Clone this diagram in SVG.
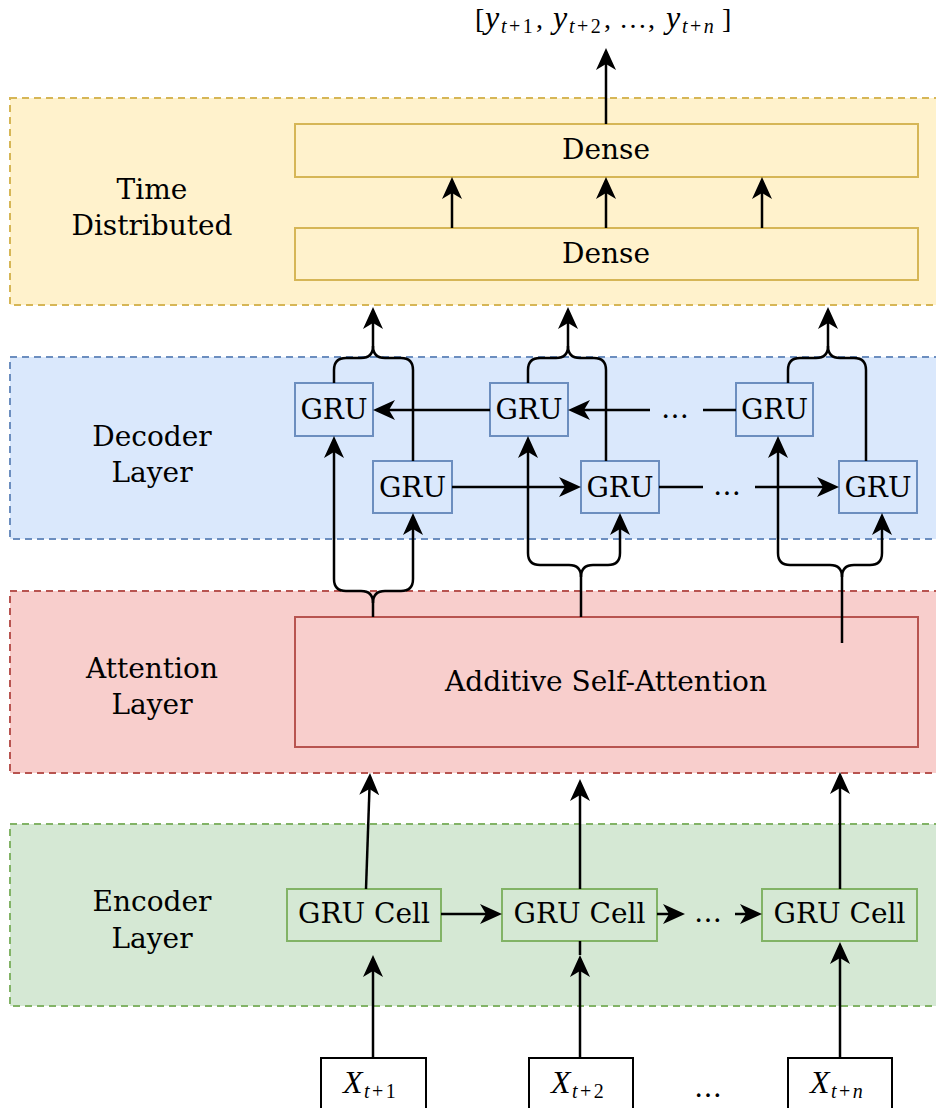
<svg xmlns="http://www.w3.org/2000/svg" width="936" height="1108" viewBox="0 0 936 1108">
  <style>
    .layer { stroke-width: 2; stroke-dasharray: 7 5; }
    .node { stroke-width: 2; }
    .yel { fill: #fff2cc; stroke: #d6b656; }
    .blu { fill: #dae8fc; stroke: #6c8ebf; }
    .red { fill: #f8cecc; stroke: #b85450; }
    .grn { fill: #d5e8d4; stroke: #82b366; }
    .inp { fill: #ffffff; stroke: #000000; }
    .t { font-family: "DejaVu Serif", "Liberation Serif", serif; font-size: 28px; fill: #000; text-anchor: middle; }
    .m { font-family: "Liberation Serif", "DejaVu Serif", serif; font-size: 28px; fill: #000; }
    .it { font-style: italic; }
    .v { font-size: 32px; font-style: italic; }
    .sub { font-size: 20px; letter-spacing: 2.5px; }
    .conn path { fill: none; stroke: #000; stroke-width: 2.5; }
    .conn .a { marker-end: url(#ah); }
  </style>
  <defs>
    <marker id="ah" markerUnits="userSpaceOnUse" markerWidth="22" markerHeight="20" refX="16" refY="10" orient="auto">
      <path d="M0,0 L22,10 L0,20 L6,10 Z" fill="#000"/>
    </marker>
  </defs>

  <!-- layer bands -->
  <g id="layer-time">
    <rect class="layer yel" x="10" y="98" width="940" height="207"/>
    <text class="t" x="152" y="199">Time</text>
    <text class="t" x="152" y="235">Distributed</text>
  </g>
  <g id="layer-decoder">
    <rect class="layer blu" x="10" y="357" width="940" height="182"/>
    <text class="t" x="152" y="446">Decoder</text>
    <text class="t" x="152" y="482">Layer</text>
  </g>
  <g id="layer-attention">
    <rect class="layer red" x="10" y="591" width="940" height="182"/>
    <text class="t" x="152" y="678">Attention</text>
    <text class="t" x="152" y="714">Layer</text>
  </g>
  <g id="layer-encoder">
    <rect class="layer grn" x="10" y="824" width="940" height="182"/>
    <text class="t" x="152" y="911">Encoder</text>
    <text class="t" x="152" y="948">Layer</text>
  </g>

  <!-- output sequence label -->
  <g id="output">
    <text class="m" y="28"><tspan x="475">[</tspan><tspan x="485" class="v">y</tspan><tspan x="501" y="33" class="sub"><tspan class="it">t</tspan>+1</tspan><tspan x="536" y="28">,</tspan><tspan x="553" class="v">y</tspan><tspan x="569" y="33" class="sub"><tspan class="it">t</tspan>+2</tspan><tspan x="604" y="28">,</tspan><tspan x="619">…</tspan><tspan x="648">,</tspan><tspan x="666" class="v">y</tspan><tspan x="682" y="33" class="sub"><tspan class="it">t</tspan>+<tspan class="it">n</tspan></tspan><tspan x="722" y="28">]</tspan></text>
  </g>

  <!-- dense stack -->
  <g id="dense-top">
    <rect class="node yel" x="295" y="124" width="623" height="53"/>
    <text class="t" x="606" y="159">Dense</text>
  </g>
  <g id="dense-bottom">
    <rect class="node yel" x="295" y="228" width="623" height="52"/>
    <text class="t" x="606" y="263">Dense</text>
  </g>

  <!-- decoder GRUs -->
  <g id="dec-up-1">
    <rect class="node blu" x="295" y="383" width="78" height="53"/>
    <text class="t" x="334" y="419">GRU</text>
  </g>
  <g id="dec-up-2">
    <rect class="node blu" x="490" y="383" width="78" height="53"/>
    <text class="t" x="529" y="419">GRU</text>
  </g>
  <g id="dec-up-3">
    <rect class="node blu" x="736" y="383" width="77" height="53"/>
    <text class="t" x="774.5" y="419">GRU</text>
  </g>
  <g id="dec-low-1">
    <rect class="node blu" x="373" y="461" width="79" height="52"/>
    <text class="t" x="412.5" y="497">GRU</text>
  </g>
  <g id="dec-low-2">
    <rect class="node blu" x="581" y="461" width="78" height="52"/>
    <text class="t" x="620" y="497">GRU</text>
  </g>
  <g id="dec-low-3">
    <rect class="node blu" x="839" y="461" width="78" height="52"/>
    <text class="t" x="878" y="497">GRU</text>
  </g>

  <!-- attention -->
  <g id="attention">
    <rect class="node red" x="295" y="617" width="623" height="130"/>
    <text class="t" x="606" y="691">Additive Self-Attention</text>
  </g>

  <!-- encoder cells -->
  <g id="enc-1">
    <rect class="node grn" x="287" y="889" width="154" height="52"/>
    <text class="t" x="364" y="923">GRU Cell</text>
  </g>
  <g id="enc-2">
    <rect class="node grn" x="502" y="889" width="155" height="52"/>
    <text class="t" x="579.5" y="923">GRU Cell</text>
  </g>
  <g id="enc-3">
    <rect class="node grn" x="762" y="889" width="155" height="52"/>
    <text class="t" x="839.5" y="923">GRU Cell</text>
  </g>

  <!-- inputs -->
  <g id="in-1">
    <rect class="node inp" x="321" y="1058" width="105" height="60"/>
    <text class="m" y="1093"><tspan x="343" class="v">X</tspan><tspan x="364" y="1098" class="sub"><tspan class="it">t</tspan>+1</tspan></text>
  </g>
  <g id="in-2">
    <rect class="node inp" x="529" y="1058" width="104" height="60"/>
    <text class="m" y="1093"><tspan x="551" class="v">X</tspan><tspan x="572" y="1098" class="sub"><tspan class="it">t</tspan>+2</tspan></text>
  </g>
  <g id="in-n">
    <rect class="node inp" x="788" y="1058" width="104" height="60"/>
    <text class="m" y="1093"><tspan x="810" class="v">X</tspan><tspan x="831" y="1098" class="sub"><tspan class="it">t</tspan>+<tspan class="it">n</tspan></tspan></text>
  </g>

  <!-- ellipses between repeated steps -->
  <g id="gaps">
    <text class="t" x="675" y="418" font-size="24">…</text>
    <text class="t" x="727" y="495" font-size="24">…</text>
    <text class="t" x="708" y="922" font-size="24">…</text>
    <text class="t" x="708" y="1097" font-size="24">…</text>
  </g>

  <g class="conn" id="connectors">
    <!-- dense outputs -->
    <path class="a" d="M606,124 V54"/>
    <path class="a" d="M452,228 V183"/>
    <path class="a" d="M606,228 V183"/>
    <path class="a" d="M762,228 V183"/>

    <!-- decoder pairs merging into the dense stack -->
    <path class="a" d="M334,383 V370 Q334,358 346,358 H361 Q373,358 373,346 V313"/>
    <path d="M413,461 V370 Q413,358 401,358 H385 Q373,358 373,346"/>
    <path class="a" d="M528,383 V370 Q528,358 540,358 H556 Q568,358 568,346 V313"/>
    <path d="M606,461 V370 Q606,358 594,358 H580 Q568,358 568,346"/>
    <path class="a" d="M788,383 V370 Q788,358 800,358 H816 Q828,358 828,346 V313"/>
    <path d="M866,461 V370 Q866,358 854,358 H840 Q828,358 828,346"/>

    <!-- attention feeding decoder pairs -->
    <path class="a" d="M373,617 V603 Q373,591 361,591 H346 Q334,591 334,579 V442"/>
    <path class="a" d="M373,603 Q373,591 385,591 H401 Q413,591 413,579 V519"/>
    <path class="a" d="M581,617 V577 Q581,565 569,565 H540 Q528,565 528,553 V442"/>
    <path class="a" d="M581,577 Q581,565 593,565 H608 Q620,565 620,553 V519"/>
    <path class="a" d="M842,643 V577 Q842,565 830,565 H790 Q778,565 778,553 V442"/>
    <path class="a" d="M842,577 Q842,565 854,565 H870 Q882,565 882,553 V519"/>

    <!-- decoder recurrences -->
    <path class="a" d="M490,410 H379"/>
    <path class="a" d="M650,410 H574"/>
    <path d="M703,410 H736"/>
    <path class="a" d="M452,487 H575"/>
    <path d="M659,487 H703"/>
    <path class="a" d="M755,487 H833"/>

    <!-- encoder recurrences -->
    <path class="a" d="M441,914 H496"/>
    <path class="a" d="M657,914 H679"/>
    <path class="a" d="M735,914 H756"/>

    <!-- encoder to attention -->
    <path class="a" d="M366,889 L369.8,779"/>
    <path class="a" d="M580,889 V785"/>
    <path class="a" d="M840,889 V778"/>

    <!-- inputs to encoder -->
    <path class="a" d="M373,1058 V961"/>
    <path class="a" d="M580,1058 V961"/>
    <path d="M580,955 V941"/>
    <path class="a" d="M840,1058 V948"/>
  </g>
</svg>
